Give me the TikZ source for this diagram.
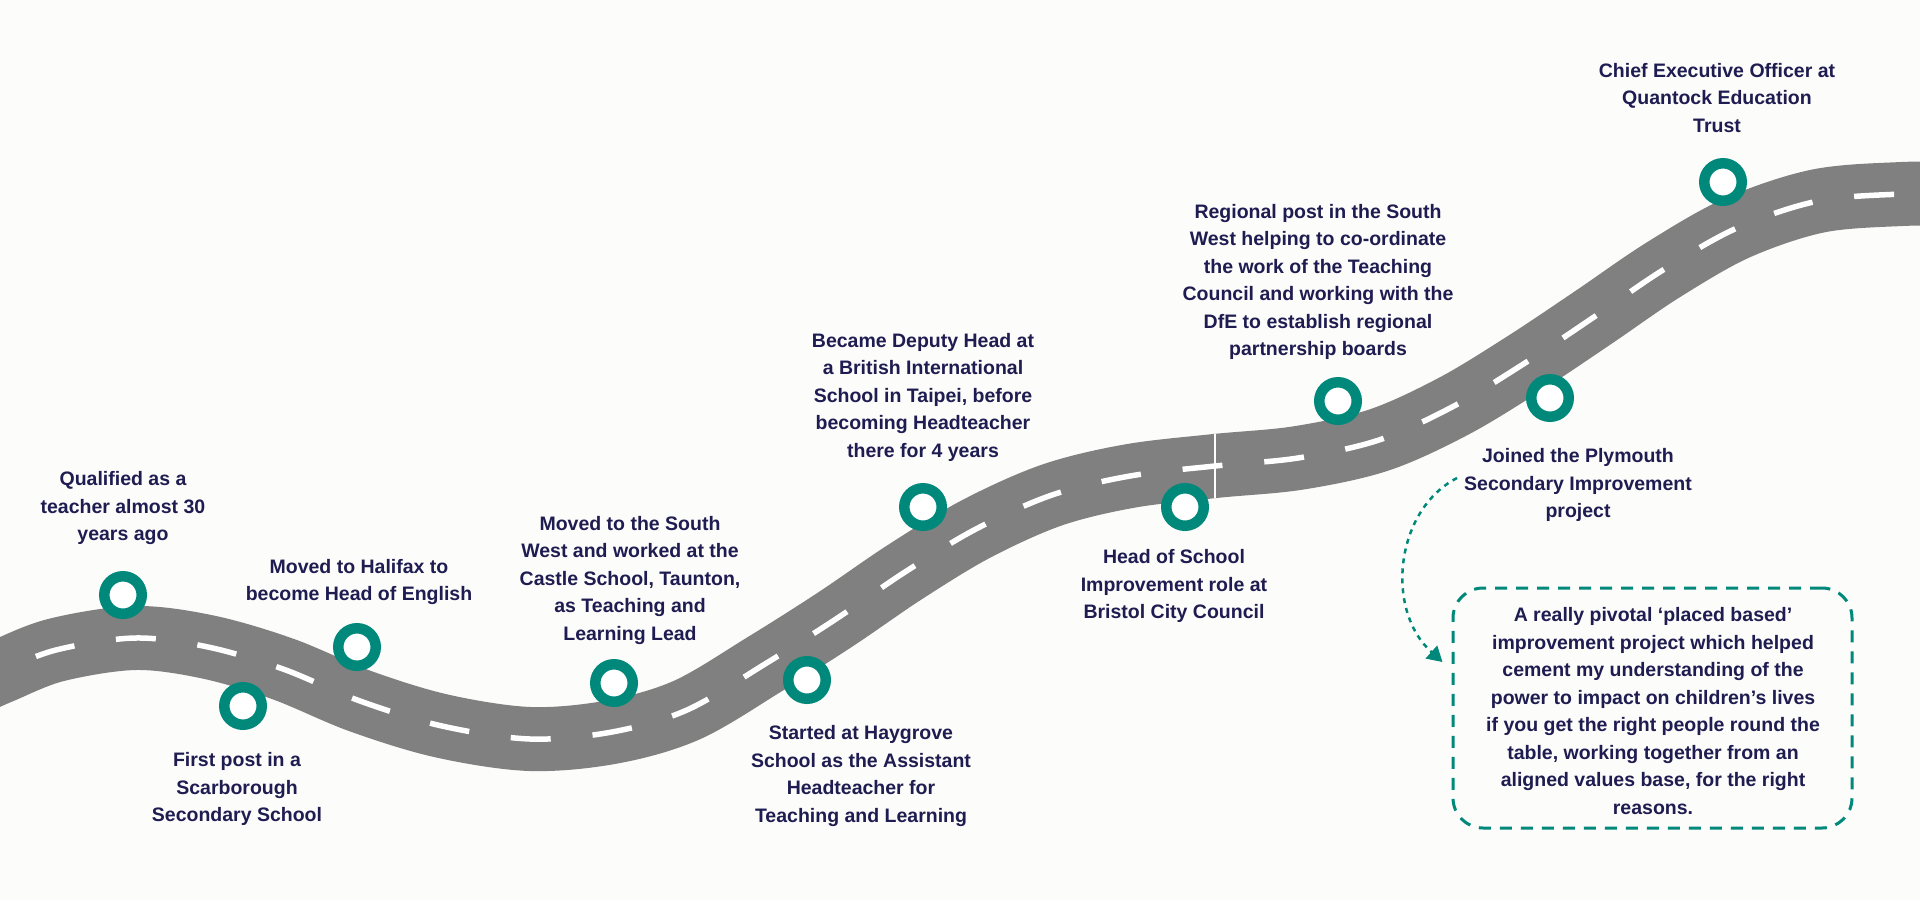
\documentclass[tikz,border=0pt]{standalone}
\usepackage{fontspec}
\setmainfont{Liberation Sans}
\usetikzlibrary{arrows.meta,calc}
\definecolor{roadgray}{RGB}{128,128,128}
\definecolor{tealc}{RGB}{0,137,123}
\definecolor{navy}{RGB}{30,28,80}
\definecolor{bgc}{RGB}{252,252,250}
\begin{document}
\begin{tikzpicture}[x=1pt,y=-1pt,
  ring/.style={circle, draw=tealc, line width=10.5pt, fill=white, minimum size=37.5pt, inner sep=0pt},
  lbl/.style={align=center, text=navy, font=\fontsize{19.5}{27.5}\selectfont\bfseries, inner sep=2pt},
  notebox/.style={draw=tealc, line width=3pt, dash pattern=on 12pt off 9pt, rounded corners=30pt,
     minimum width=399pt, minimum height=240pt, inner sep=0pt},
  dotarrow/.style={draw=tealc, line width=2.5pt, dash pattern=on 5pt off 5pt,
     -{Triangle[length=15pt,width=17pt,fill=tealc,sep=0pt]}}
]
\useasboundingbox (0,0) rectangle (1920,900);
\fill[bgc] (0,0) rectangle (1920,900);

% road
\begin{scope}
\clip (0,0) rectangle (1920,900);
\draw[roadgray, line width=64pt,
  postaction={draw=white, line width=5.5pt, dash pattern=on 40pt off 42pt, dash phase=81pt}]
  plot[smooth, tension=0.55] coordinates {(-40,690) (0,672) (56,650) (135,638) (208,647) (283,669)
   (360,701) (442,726) (530,739) (612,732) (687,710) (765,664) (836,619) (905,572) (976,529)
   (1052,495) (1130,476) (1215,466) (1298,458) (1379,440) (1454,406) (1525,363) (1594,317)
   (1663,270) (1737,228) (1818,201) (1902,194) (1960,194)};
\draw[white, line width=1.5pt] (1215,434) -- (1215,498);
\end{scope}

% milestones
\node[ring] (c1) at (123,595) {};
\node[ring] (c2) at (243,706) {};
\node[ring] (c3) at (357,647) {};
\node[ring] (c4) at (614,683) {};
\node[ring] (c5) at (807,680) {};
\node[ring] (c6) at (923,507) {};
\node[ring] (c7) at (1185,507) {};
\node[ring] (c8) at (1338,401) {};
\node[ring] (c9) at (1550,398) {};
\node[ring] (c10) at (1723,182) {};

% labels
\node[lbl] (l1) at (123,508) {Qualified as a\\teacher almost 30\\years ago};
\node[lbl] (l2) at (237,789) {First post in a\\Scarborough\\Secondary School};
\node[lbl] (l3) at (359,582) {Moved to Halifax to\\become Head of English};
\node[lbl] (l4) at (630,580) {Moved to the South\\West and worked at the\\Castle School, Taunton,\\as Teaching and\\Learning Lead};
\node[lbl] (l5) at (861,776) {Started at Haygrove\\School as the Assistant\\Headteacher for\\Teaching and Learning};
\node[lbl] (l6) at (923,397) {Became Deputy Head at\\a British International\\School in Taipei, before\\becoming Headteacher\\there for 4 years};
\node[lbl] (l7) at (1174,586) {Head of School\\Improvement role at\\Bristol City Council};
\node[lbl] (l8) at (1318,282) {Regional post in the South\\West helping to co-ordinate\\the work of the Teaching\\Council and working with the\\DfE to establish regional\\partnership boards};
\node[lbl] (l9) at (1578,485) {Joined the Plymouth\\Secondary Improvement\\project};
\node[lbl] (l10) at (1717,98) {Chief Executive Officer at\\Quantock Education\\Trust};

% note box
\node[notebox] (box) at (1652.5,708) {};
\node[lbl] (boxtext) at (1653,711) {A really pivotal ‘placed based’\\improvement project which helped\\cement my understanding of the\\power to impact on children’s lives\\if you get the right people round the\\table, working together from an\\aligned values base, for the right\\reasons.};

% curved dotted arrow
\coordinate (as) at ([xshift=-5pt,yshift=7pt]l9.west);
\coordinate (ae) at ([xshift=-9pt,yshift=46pt]box.west);
\draw[dotarrow] (as) .. controls ($(as)+(-62,32)$) and ($(ae)+(-58,-52)$) .. (ae);
\end{tikzpicture}
\end{document}
